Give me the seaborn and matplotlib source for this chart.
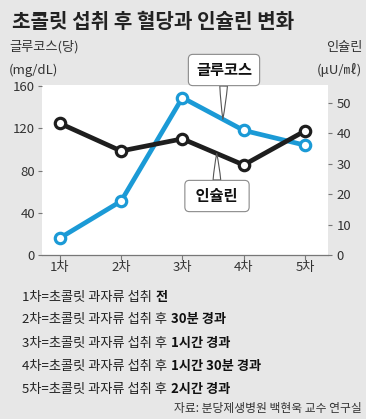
import numpy as np
import matplotlib
matplotlib.use("Agg")
import matplotlib.pyplot as plt
import seaborn as sns

# data
rounds = [1, 2, 3, 4, 5]
round_labels = ["1차", "2차", "3차", "4차", "5차"]
glucose = [16, 51, 149, 118, 104]      # mg/dL, left axis
insulin = [43.3, 34.2, 38.2, 29.6, 40.8]  # uU/mL, right axis
glucose_ticks = [0, 40, 80, 120, 160]
insulin_ticks = [0, 10, 20, 30, 40, 50]

notes_plain = ["1차=초콜릿 과자류 섭취", "2차=초콜릿 과자류 섭취 후", "3차=초콜릿 과자류 섭취 후",
               "4차=초콜릿 과자류 섭취 후", "5차=초콜릿 과자류 섭취 후"]
notes_bold = ["전", "30분 경과", "1시간 경과", "1시간 30분 경과", "2시간 경과"]

sns.set_style("white")
plt.rcParams["font.family"] = ["Noto Sans CJK KR", "DejaVu Sans"]

BG = "#e7e7e7"
BLUE = "#1b9ad6"
BLACK = "#1e1e1e"
W, H = 366, 419

fig = plt.figure(figsize=(W / 100, H / 100), dpi=100, facecolor=BG)
ax = fig.add_axes([42 / W, 1 - 255 / H, (328 - 42) / W, 170 / H])
ax.set_facecolor("white")

sns.lineplot(x=rounds, y=glucose, ax=ax, color=BLUE, lw=3.4, marker="o", markersize=7.5,
             markerfacecolor="white", markeredgecolor=BLUE, markeredgewidth=2.3)
ax.set_xlim(0.71, 5.375)
ax.set_ylim(0, 161)
ax.set_yticks(glucose_ticks)
ax.set_xticks(rounds)
ax.set_xticklabels(round_labels)

ax2 = ax.twinx()
sns.lineplot(x=rounds, y=insulin, ax=ax2, color=BLACK, lw=3.4, marker="o", markersize=7.5,
             markerfacecolor="white", markeredgecolor=BLACK, markeredgewidth=2.3)
ax2.set_ylim(0, 55.9)
ax2.set_yticks(insulin_ticks)

for a in (ax, ax2):
    for s in a.spines.values():
        s.set_visible(False)
    a.set_xlabel("")
    a.set_ylabel("")
ax.spines["bottom"].set_visible(True)
ax.spines["bottom"].set_color("#777777")
ax.spines["bottom"].set_linewidth(0.9)
ax.tick_params(axis="x", length=3.5, width=0.8, color="#777777", labelsize=9.5,
               labelcolor="#333333", pad=1, bottom=True)
ax.tick_params(axis="y", length=3, width=0.8, color="#777777", labelsize=9.5,
               labelcolor="#333333", pad=2, left=True)
ax2.tick_params(axis="y", length=3, width=0.8, color="#777777", labelsize=9.5,
                labelcolor="#333333", pad=3, right=True)

# callout labels
gx = 3.66
gy = np.interp(gx, rounds, glucose)
ix = 3.56
iy = np.interp(ix, rounds, insulin)
box = dict(boxstyle="round,pad=0.5,rounding_size=0.3", fc="white", ec="#8a8a8a", lw=0.8)
arrow = dict(arrowstyle="wedge,tail_width=0.5,shrink_factor=0.6", fc="white", ec="#555555",
             lw=0.8, shrinkA=0, shrinkB=0)
ax2.annotate("글루코스", xy=(gx, gy), xycoords=ax.transData, xytext=(224, H - 70),
             textcoords="figure pixels", ha="center", va="center", fontsize=11,
             fontweight="bold", color="#111111", bbox=box, arrowprops=arrow,
             annotation_clip=False, zorder=10)
ax2.annotate(" 인슐린 ", xy=(ix, iy), xycoords="data", xytext=(217, H - 196),
             textcoords="figure pixels", ha="center", va="center", fontsize=11,
             fontweight="bold", color="#111111", bbox=box, arrowprops=arrow,
             annotation_clip=False, zorder=10)

# titles and axis labels
fig.text(12 / W, 1 - 22 / H, "초콜릿 섭취 후 혈당과 인슐린 변화", fontsize=14.5,
         fontweight="bold", color="#222222", va="center", ha="left")
fig.text(9 / W, 1 - 47 / H, "글루코스(당)", fontsize=9.5, color="#333333", va="center")
fig.text(9 / W, 1 - 70 / H, "(mg/dL)", fontsize=9.5, color="#333333", va="center")
fig.text(362 / W, 1 - 47 / H, "인슐린", fontsize=9.5, color="#333333", va="center", ha="right")
fig.text(362 / W, 1 - 70 / H, "(μU/㎖)", fontsize=9.5, color="#333333", va="center", ha="right")

# footnotes with bold endings
note_y = [297, 319, 343, 366, 389]
for plain, bold, y in zip(notes_plain, notes_bold, note_y):
    t = fig.text(22 / W, 1 - y / H, plain, fontsize=9.5, color="#222222", va="center")
    ax2.annotate(bold, xy=(1, 0.5), xycoords=t, xytext=(3, 0), textcoords="offset points",
                 fontsize=9.5, fontweight="bold", color="#111111", va="center", ha="left",
                 annotation_clip=False)

fig.text(362 / W, 1 - 408 / H, "자료: 분당제생병원 백현욱 교수 연구실", fontsize=8.5,
         color="#333333", va="center", ha="right")

fig.savefig("out.png", dpi=100, facecolor=BG)
